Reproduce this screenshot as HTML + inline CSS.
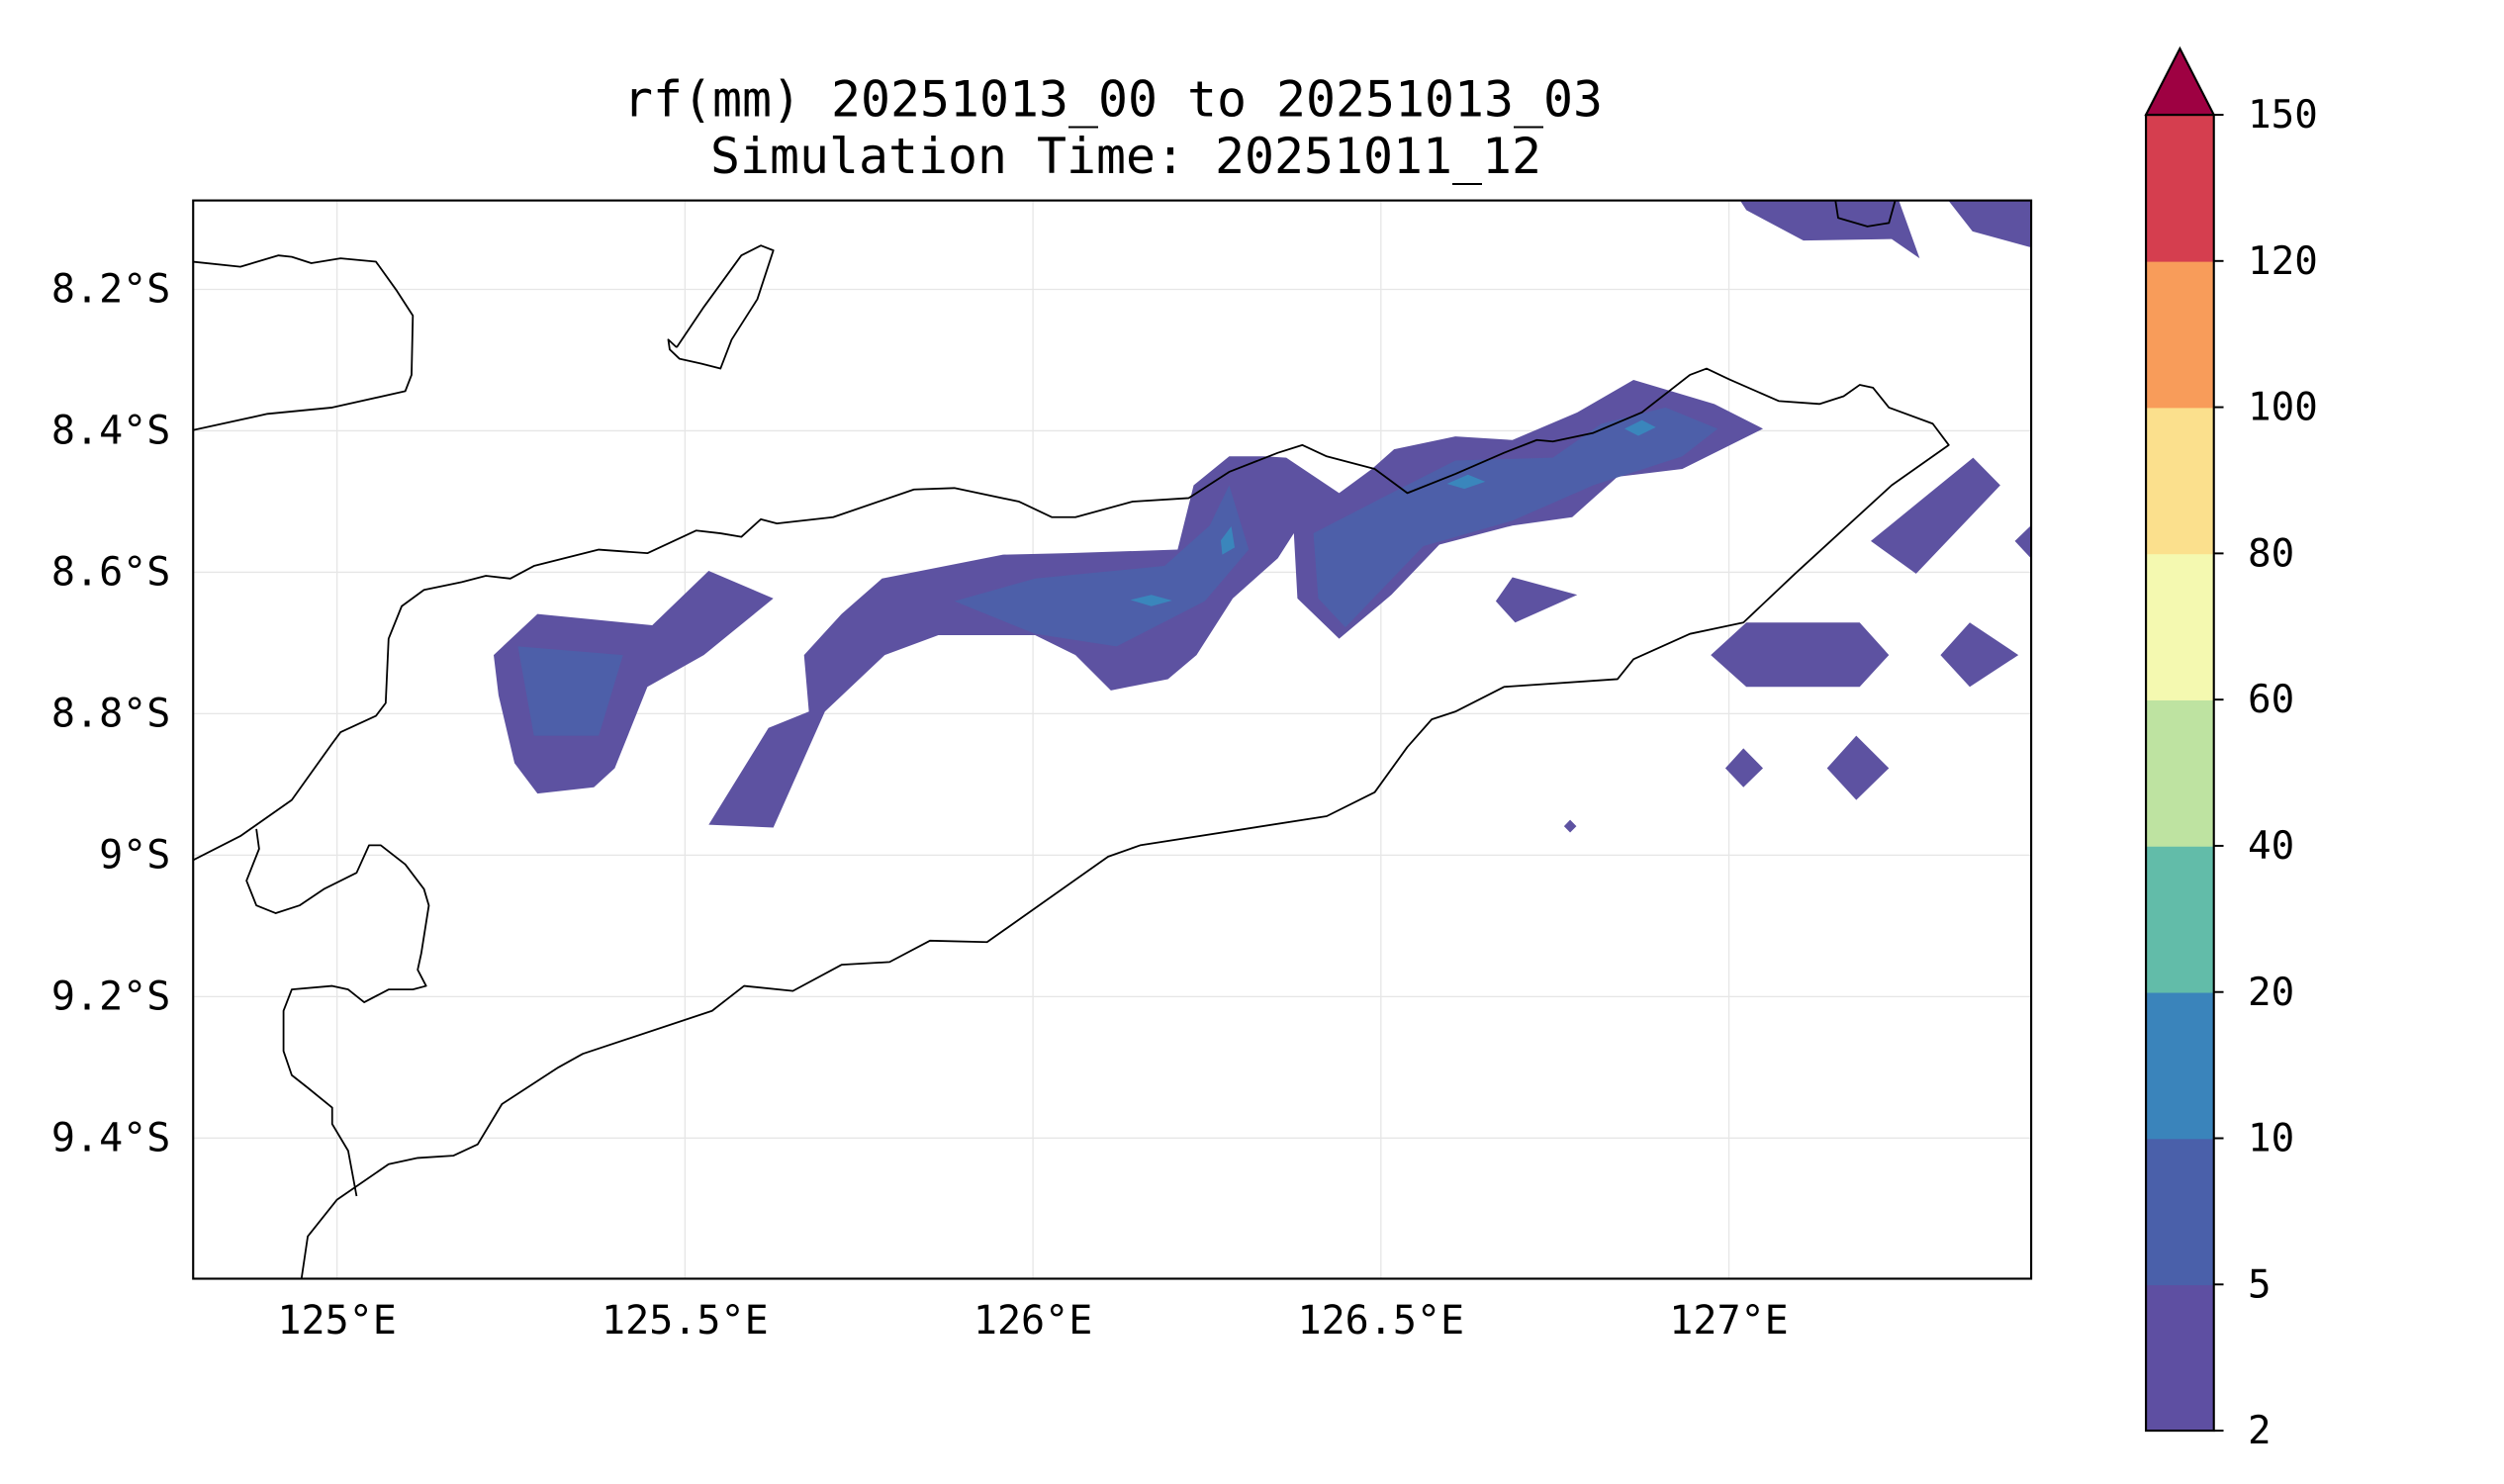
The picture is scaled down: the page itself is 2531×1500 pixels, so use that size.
<!DOCTYPE html>
<html><head><meta charset="utf-8">
<style>
html,body{margin:0;padding:0;background:#fff;}
svg{display:block;}
text{font-family:"DejaVu Sans Mono","Liberation Mono",monospace;fill:#000;}
</style></head>
<body>
<svg id="chart" width="2531" height="1500" viewBox="0 0 1548 918" xmlns="http://www.w3.org/2000/svg">
<rect x="0" y="0" width="1548" height="918" fill="#fff"/>
<text x="688" y="72" font-size="30.5" text-anchor="middle">rf(mm) 20251013_00 to 20251013_03</text>
<text x="696" y="107" font-size="30.5" text-anchor="middle">Simulation Time: 20251011_12</text>
<defs><clipPath id="pc"><rect x="119" y="124" width="1137" height="667"/></clipPath></defs>
<g id="grid"></g>
<g id="fills" clip-path="url(#pc)"></g>
<g id="coast" clip-path="url(#pc)"></g>
<rect x="119" y="124" width="1137" height="667" fill="none" stroke="#000" stroke-width="1.3"/>
<g id="axes"></g>
<g id="cbar"></g>
</svg>
<script>
const latTicks=[8.2,8.4,8.6,8.8,9.0,9.2,9.4];
const latLabels=["8.2°S","8.4°S","8.6°S","8.8°S","9°S","9.2°S","9.4°S"];
const lonTicks=[125,125.5,126,126.5,127];
const lonLabels=["125°E","125.5°E","126°E","126.5°E","127°E"];
const cbLevels=[2,5,10,20,40,60,80,100,120,150];
const cbColors=["#5e4fa2","#4a60aa","#3a84bb","#62bca9","#bee3a1","#f4f9b0","#fbe08d","#f89c5a","#d53e4f"];
const extendColor="#9e0142";
const polyLevel=[0,0,0,0,0,0,0,0,0,0,0,0,1,1,1,2,2,2,2];
const polyLon=[
[125.225,125.288,125.453,125.534,125.627,125.527,125.446,125.399,125.369,125.288,125.255,125.232],
[125.534,125.627,125.701,125.787,125.864,126.003,126.061,126.112,126.194,126.235,126.287,126.352,126.375,126.380,126.440,126.515,126.584,126.689,126.775,126.840,126.933,127.049,126.979,126.863,126.782,126.689,126.607,126.519,126.487,126.440,126.364,126.333,126.282,126.231,126.208,126.050,125.957,125.783,125.725,125.671,125.678,125.620],
[127.007,127.239,127.274,127.234,127.107,127.025],
[127.304,127.45,127.45,127.350],
[127.351,127.390,127.269,127.204],
[127.434,127.45,127.45,127.434,127.411],
[126.689,126.782,126.693,126.665],
[127.025,127.188,127.230,127.188,127.025,126.974],
[127.346,127.416,127.346,127.304],
[127.021,127.049,127.021,126.995],
[127.183,127.230,127.183,127.141],
[126.772,126.781,126.772,126.763],
[125.887,126.003,126.189,126.254,126.282,126.310,126.247,126.120,126.003],
[126.403,126.515,126.607,126.747,126.817,126.909,126.984,126.933,126.805,126.689,126.561,126.449,126.410],
[125.260,125.411,125.376,125.283],
[126.140,126.170,126.200,126.170],
[126.270,126.285,126.290,126.272],
[126.595,126.625,126.650,126.620],
[126.850,126.875,126.895,126.870]
];
const polyLat=[
[8.717,8.659,8.675,8.598,8.637,8.717,8.762,8.877,8.904,8.913,8.870,8.774],
[8.957,8.961,8.797,8.717,8.689,8.689,8.717,8.767,8.751,8.717,8.637,8.580,8.545,8.637,8.694,8.632,8.561,8.534,8.522,8.465,8.454,8.397,8.362,8.328,8.374,8.413,8.408,8.426,8.454,8.488,8.438,8.436,8.436,8.477,8.568,8.573,8.575,8.609,8.659,8.717,8.797,8.820],
[8.06,8.06,8.156,8.129,8.131,8.088],
[8.06,8.06,8.145,8.118],
[8.438,8.477,8.602,8.556],
[8.534,8.520,8.590,8.580,8.556],
[8.607,8.632,8.671,8.641],
[8.671,8.671,8.717,8.762,8.762,8.717],
[8.671,8.717,8.762,8.717],
[8.849,8.877,8.904,8.877],
[8.831,8.877,8.922,8.877],
[8.950,8.959,8.968,8.959],
[8.641,8.609,8.591,8.534,8.477,8.568,8.641,8.705,8.687],
[8.545,8.488,8.442,8.438,8.390,8.367,8.397,8.436,8.477,8.527,8.563,8.678,8.637],
[8.705,8.717,8.831,8.831],
[8.639,8.632,8.640,8.648],
[8.555,8.535,8.565,8.575],
[8.475,8.462,8.472,8.482],
[8.397,8.385,8.395,8.407]
];
const coastLon=[
[124.70,124.793,124.861,124.916,124.935,124.963,125.005,125.056,125.086,125.109,125.107,125.098,124.993,124.900,124.793,124.70],
[125.488,125.527,125.581,125.609,125.627,125.604,125.567,125.551,125.523,125.492,125.478,125.476,125.488],
[124.70,124.793,124.861,124.935,124.993,125.005,125.056,125.070,125.074,125.093,125.125,125.179,125.214,125.249,125.283,125.376,125.446,125.516,125.551,125.581,125.609,125.632,125.713,125.829,125.887,125.980,126.027,126.061,126.143,126.224,126.282,126.352,126.387,126.422,126.491,126.538,126.607,126.677,126.724,126.747,126.805,126.875,126.944,126.968,127.002,127.072,127.130,127.165,127.188,127.207,127.230,127.293,127.316,127.234,127.095,127.021,126.944,126.863,126.840,126.677,126.607,126.573,126.538,126.491,126.422,126.154,126.108,125.934,125.852,125.794,125.725,125.655,125.585,125.539,125.353,125.318,125.237,125.202,125.167,125.116,125.074,125.000,124.958,124.949,124.94],
[124.884,124.888,124.870,124.884,124.912,124.946,124.981,125.028,125.046,125.063,125.098,125.125,125.132,125.121,125.116,125.128,125.109,125.074,125.039,125.016,124.993,124.935,124.923,124.923,124.935,124.958,124.993,124.993,125.016,125.028],
[127.153,127.157,127.199,127.230,127.239]
];
const coastLat=[
[8.16,8.161,8.168,8.152,8.154,8.163,8.156,8.161,8.202,8.237,8.321,8.344,8.367,8.376,8.399,8.42],
[8.282,8.225,8.152,8.138,8.145,8.214,8.271,8.312,8.305,8.298,8.285,8.271,8.282],
[9.03,9.007,8.973,8.922,8.842,8.826,8.803,8.785,8.694,8.648,8.625,8.614,8.605,8.609,8.591,8.568,8.573,8.541,8.545,8.550,8.525,8.531,8.522,8.483,8.481,8.500,8.522,8.522,8.500,8.495,8.458,8.431,8.420,8.436,8.454,8.488,8.461,8.431,8.413,8.415,8.403,8.374,8.321,8.312,8.328,8.358,8.362,8.351,8.335,8.339,8.367,8.390,8.420,8.477,8.602,8.671,8.687,8.723,8.751,8.762,8.797,8.808,8.847,8.911,8.945,8.986,9.002,9.123,9.121,9.151,9.155,9.192,9.185,9.220,9.281,9.300,9.352,9.409,9.425,9.428,9.437,9.487,9.539,9.599,9.62],
[8.963,8.991,9.036,9.071,9.082,9.071,9.048,9.025,8.986,8.986,9.013,9.048,9.071,9.139,9.162,9.185,9.190,9.190,9.208,9.190,9.185,9.190,9.220,9.277,9.311,9.329,9.357,9.380,9.418,9.482],
[8.074,8.099,8.111,8.106,8.074]
];
const NS="http://www.w3.org/2000/svg";
const px=lon=>208+(lon-125)*430.5;
const py=lat=>179+(lat-8.2)*437.5;
function mk(tag,attrs,parent){const e=document.createElementNS(NS,tag);for(const k in attrs)e.setAttribute(k,attrs[k]);parent.appendChild(e);return e;}
const grid=document.getElementById('grid'),axes=document.getElementById('axes');
latTicks.forEach((t,i)=>{
  const y=py(t);
  const g=mk('line',{x1:119,x2:1256,y1:y,y2:y,stroke:'#e6e6e6','stroke-width':0.8},grid);
  
  
  const tx=mk('text',{x:105,y:y+8,'font-size':24.5,'text-anchor':'end'},axes);
  tx.textContent=latLabels[i];
  
  
});
lonTicks.forEach((t,i)=>{
  const x=px(t);
  const g=mk('line',{x1:x,x2:x,y1:124,y2:791,stroke:'#e6e6e6','stroke-width':0.8},grid);
  
  
  const tx=mk('text',{x:x,y:825,'font-size':24.5,'text-anchor':'middle'},axes);
  tx.textContent=lonLabels[i];
  
  
});
const fills=document.getElementById('fills');
const fillCols=["#5d52a1","#4d5fa9","#3a86bc"];
polyLon.forEach((lons,i)=>{
  const pts=lons.map((l,j)=>px(l).toFixed(1)+','+py(polyLat[i][j]).toFixed(1)).join(' ');
  const p=mk('polygon',{points:pts,fill:fillCols[polyLevel[i]]},fills);
  
  
});
const coast=document.getElementById('coast');
coastLon.forEach((lons,i)=>{
  const pts=lons.map((l,j)=>px(l).toFixed(1)+','+py(coastLat[i][j]).toFixed(1)).join(' ');
  const p=mk('polyline',{points:pts,fill:'none',stroke:'#000','stroke-width':1.1,'stroke-linejoin':'round'},coast);
  
  
});
const cb=document.getElementById('cbar');
const cbX=1327,cbW=42,cbTop=71,cbBot=885,n=cbColors.length,seg=(cbBot-cbTop)/n;
cbColors.forEach((c,i)=>{
  const r=mk('rect',{x:cbX,y:cbBot-(i+1)*seg,width:cbW,height:seg+0.5,fill:c},cb);
  
  
});
const tri=mk('polygon',{points:`${cbX},${cbTop} ${cbX+cbW/2},30 ${cbX+cbW},${cbTop}`,fill:extendColor,stroke:'#000','stroke-width':1.3},cb);


const fr=mk('rect',{x:cbX,y:cbTop,width:cbW,height:cbBot-cbTop,fill:'none',stroke:'#000','stroke-width':1.3},cb);


cbLevels.forEach((v,i)=>{
  const y=cbBot-i*seg;
  mk('line',{x1:cbX+cbW,x2:cbX+cbW+6,y1:y,y2:y,stroke:'#000','stroke-width':1.2},cb);
  const t=mk('text',{x:1390,y:y+8,'font-size':24},cb);
  t.textContent=v;
  
  
});
</script>
</body></html>
